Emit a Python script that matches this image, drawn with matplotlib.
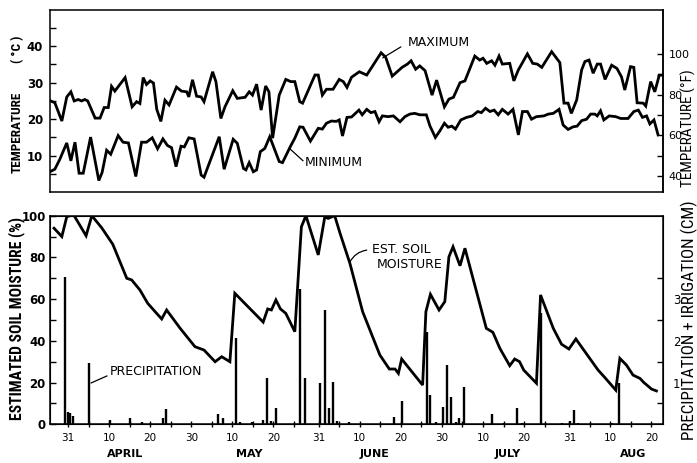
import matplotlib
matplotlib.use("Agg")
import matplotlib.pyplot as plt
from matplotlib import font_manager
from matplotlib.ticker import FixedLocator

# ---------------- data (day 0 = March 31) ----------------
tmax_day = [-4.4, -3.2, -1.5, -0.3, 0.7, 1.5, 2.5, 3.3, 4.1, 4.8, 6.6, 7.8, 8.8, 9.8, 10.6, 11.4,
            13.9, 15.6, 16.7, 17.5, 18.3, 19.1, 20.0, 20.8, 21.6, 22.6, 23.6, 24.6, 26.4, 27.6,
            28.9, 29.4, 30.3, 31.3, 32.4, 33.1, 35.2, 36.0, 37.2, 38.2, 40.1, 41.2, 43.1, 44.1,
            44.9, 45.9, 47.0, 48.1, 48.9, 49.8, 51.4, 53.0, 54.2, 55.2, 56.4, 57.1, 60.1, 60.9,
            61.9, 62.9, 64.5, 66.0, 67.0, 67.9, 69.0, 70.9, 72.7, 76.2, 77.3, 78.9, 81.3, 82.6,
            83.5, 84.6, 85.6, 86.9, 88.6, 89.7, 91.6, 92.7, 93.8, 95.4, 96.6, 99.0, 100.2, 101.0,
            101.9, 103.1, 103.9, 104.9, 105.7, 107.5, 108.5, 109.6, 111.8, 113.1, 114.2, 115.3,
            117.7, 119.7, 120.7, 121.7, 122.5, 123.8, 125.0, 125.8, 126.8, 127.8, 128.8, 129.6,
            130.7, 132.3, 133.6, 134.7, 135.5, 136.9, 137.7, 138.5, 140.0, 140.6, 141.8, 142.8,
            143.9, 144.7]
tmax_val = [25.1, 24.5, 19.5, 26.1, 27.5, 25.0, 25.4, 25.0, 25.4, 25.0, 20.3, 20.3, 23.2, 23.2, 29.0, 27.7,
            31.4, 23.4, 24.8, 24.3, 31.4, 29.5, 30.5, 29.9, 22.7, 19.4, 25.2, 23.9, 28.8, 27.7,
            27.5, 26.1, 30.8, 26.3, 26.1, 24.8, 33.0, 30.3, 20.2, 23.4, 27.8, 25.7, 26.0, 27.5,
            26.6, 29.6, 22.5, 29.1, 27.5, 14.8, 26.6, 30.9, 30.3, 30.3, 24.8, 24.4, 32.1, 32.1,
            26.6, 28.2, 28.2, 30.9, 30.3, 28.7, 31.5, 33.0, 32.1, 38.2, 37.0, 31.8, 34.2, 35.1,
            36.0, 33.7, 34.6, 33.3, 26.6, 30.7, 23.4, 25.5, 26.0, 30.0, 30.5, 37.3, 36.2, 36.7,
            35.3, 36.0, 34.8, 37.3, 35.1, 35.3, 30.5, 33.5, 37.9, 35.3, 35.1, 34.2,
            38.5, 35.5, 24.4, 24.4, 21.6, 25.3, 33.5, 35.8, 36.2, 32.6, 35.1, 35.1,
            30.9, 34.8, 33.9, 31.6, 28.0, 34.4, 34.2, 24.5, 24.4, 23.6, 30.3, 27.5,
            32.1, 32.1]

tmin_day = [-4.4, -3.2, -2.0, -0.3, 0.7, 1.7, 2.7, 3.7, 5.5, 7.5, 8.3, 9.4, 10.4, 12.2, 13.4, 14.7,
            16.5, 17.9, 19.1, 20.5, 21.8, 23.1, 24.2, 25.2, 26.3, 27.5, 28.3, 29.4, 30.7, 32.4,
            33.1, 36.8, 38.0, 40.2, 41.2, 42.7, 43.3, 44.1, 45.1, 45.9, 46.8, 47.9, 49.1, 51.4,
            52.2, 54.2, 55.2, 56.4, 57.2, 59.0, 60.9, 61.9, 62.9, 64.1, 65.3, 66.0, 66.8, 67.9,
            69.0, 70.8, 71.6, 72.7, 73.7, 74.7, 75.7, 76.5, 77.9, 79.2, 80.8, 82.0, 83.2, 84.4,
            85.6, 87.2, 88.1, 89.4, 90.5, 91.6, 92.5, 93.4, 94.3, 95.6, 97.0, 98.4, 99.7, 100.6,
            101.6, 102.7, 103.7, 104.7, 105.7, 107.1, 108.3, 109.6, 110.6, 111.8, 112.8, 114.0,
            115.8, 116.9, 118.1, 119.5, 120.5, 121.7, 122.9, 123.9, 125.0, 126.2, 127.2, 128.2,
            128.8, 129.6, 130.4, 131.7, 133.3, 134.5, 136.3, 137.7, 138.8, 139.8, 140.8, 141.6,
            142.6, 143.6]
tmin_val = [5.6, 6.3, 9.0, 13.5, 8.6, 13.7, 5.2, 5.2, 15.1, 3.2, 5.4, 11.5, 10.4, 15.5, 13.7, 13.5,
            4.3, 13.7, 13.7, 14.9, 11.9, 14.6, 12.8, 12.2, 7.0, 12.6, 12.4, 14.9, 14.6, 4.7,
            4.1, 15.2, 6.3, 14.5, 13.4, 6.5, 6.1, 8.1, 5.6, 6.1, 11.1, 12.0, 15.2, 8.4,
            8.1, 12.7, 14.8, 17.9, 17.8, 14.0, 17.5, 17.3, 18.9, 19.5, 19.4, 19.8, 15.4, 20.5,
            20.6, 22.5, 21.2, 22.7, 21.8, 22.1, 19.3, 20.9, 20.7, 20.9, 19.3, 20.7, 21.4, 21.6,
            21.2, 21.2, 18.1, 15.0, 16.8, 18.9, 17.8, 18.1, 17.3, 19.8, 20.5, 20.9, 22.1, 21.8,
            23.0, 22.1, 22.5, 21.2, 22.7, 21.4, 22.7, 15.7, 22.1, 22.1, 20.0, 20.7,
            20.9, 21.4, 21.6, 22.7, 18.4, 17.2, 17.9, 18.1, 19.6, 20.0, 21.4, 21.4,
            20.9, 22.3, 19.8, 20.9, 20.7, 20.2, 20.2, 22.1, 22.5, 20.5, 20.9, 18.7,
            19.8, 15.7]

soil_day = [-3.4, -1.5, -0.3, 0.5, 1.5, 4.4, 5.8, 7.0, 8.2, 9.4, 10.9, 14.3, 15.5, 17.5, 19.4, 21.2,
            22.8, 24.0, 27.3, 30.9, 33.1, 35.8, 37.4, 39.4, 40.6, 47.5, 48.6, 49.5, 50.6, 51.7,
            53.0, 55.2, 56.8, 57.9, 60.9, 62.5, 63.3, 64.9, 66.2, 68.6, 71.7, 75.9, 78.2, 79.6,
            80.4, 81.2, 86.3, 87.1, 88.2, 90.3, 91.7, 92.7, 93.7, 95.4, 96.6, 101.8, 103.4, 105.1,
            107.5, 108.7, 109.9, 110.9, 114.0, 115.0, 118.1, 120.1, 121.9, 123.6, 129.0, 130.7,
            133.3, 134.3, 135.9, 137.5, 139.2, 140.1, 142.0, 143.2]
soil_val = [94, 90, 99.5, 100, 100, 90.4, 100, 97.1, 94.2, 90.7, 86.3, 70, 69.2, 64.4, 58, 54,
            50.5, 54.8, 46, 37.2, 35.6, 30, 32.4, 30, 62.8, 49, 55.3, 54.8, 59.6, 55.3,
            53.2, 44.4, 94.7, 100, 81.2, 99.5, 98.7, 100, 91.6, 77.2, 54, 33.2, 26.5, 26.5,
            24.4, 31.3, 18.8, 54, 62.3, 54.8, 58.8, 80.3, 85.1, 76, 84.4, 46, 44.1, 36.4,
            28.1, 31.3, 30, 26, 19.7, 62, 46, 38.4, 36.1, 40.9, 26, 22.3,
            16.4, 31.6, 28.4, 23.6, 22, 20.1, 16.9, 16]

rain_day = [-0.7, -0.1, 0.4, 1.1, 5.2, 10.2, 15.1, 17.9, 23.0, 23.8, 36.6, 37.6, 40.9, 41.8, 44.7,
            47.5, 48.5, 49.5, 50.6, 56.4, 57.6, 61.4, 62.5, 63.6, 64.4, 65.4, 68.4, 79.3, 81.2,
            87.4, 88.2, 89.5, 91.2, 92.2, 93.3, 94.4, 95.2, 96.4, 103.3, 106.1, 109.2, 110.4,
            115.2, 120.3, 122.1, 123.2, 124.1, 132.3, 134.1]
rain_cm = [3.54, 0.3, 0.28, 0.21, 1.48, 0.1, 0.14, 0.06, 0.16, 0.37, 0.24, 0.16, 2.08, 0.06, 0.05,
           0.1, 1.12, 0.08, 0.4, 3.24, 1.12, 0.98, 2.74, 0.38, 1.02, 0.08, 0.05, 0.18, 0.56,
           2.22, 0.7, 0.05, 0.42, 1.42, 0.66, 0.05, 0.14, 0.9, 0.24, 0.04, 0.38, 0.03,
           2.66, 0.03, 0.07, 0.34, 0.03, 0.03, 0.98]

date_ticks = [0, 10, 20, 30, 40, 50, 61, 71, 81, 91, 101, 111, 122, 132, 142]
date_labels = ["31", "10", "20", "30", "10", "20", "31", "10", "20", "30", "10", "20", "31", "10", "20"]
minor_date_ticks = [5, 15, 25, 35, 45, 55, 66, 76, 86, 96, 106, 116, 127, 137]
month_names = ["APRIL", "MAY", "JUNE", "JULY", "AUG"]
month_pos = [13.9, 44.0, 74.7, 107.0, 137.5]

# ---------------- figure ----------------
W, H = 697, 463
fig = plt.figure(figsize=(W / 100, H / 100), dpi=100)
fig.patch.set_facecolor("white")

def rect(l, t, r, b):
    return [l / W, 1 - b / H, (r - l) / W, (b - t) / H]

installed = {f.name for f in font_manager.fontManager.ttflist}
NARROW = "DejaVu Sans"
for cand in ["Liberation Sans Narrow", "DejaVu Sans Condensed", "Roboto Condensed",
             "Open Sans Condensed", "Noto Sans Condensed"]:
    if cand in installed:
        NARROW = cand
        break
NUMF = ["DejaVu Sans"]
LW = 2.0
XL = (-4.38, 144.8)

# ---------- top panel ----------
ax1 = fig.add_axes(rect(50, 9.7, 663, 192.2))
ax1.plot(tmax_day, tmax_val, color="black", lw=LW, solid_joinstyle="miter")
ax1.plot(tmin_day, tmin_val, color="black", lw=LW, solid_joinstyle="miter")
ax1.set_xlim(*XL)
ax1.set_ylim(0, 50)
ax1.set_xticks([])
ax1.set_yticks([10, 20, 30, 40])
ax1.set_yticks([5, 15, 25, 35, 45], minor=True)
ax1.tick_params(axis="y", which="both", direction="in", length=4, width=1.0, pad=5,
                labelsize=8.5)
for lab in ax1.get_yticklabels():
    lab.set_fontweight("bold")
    lab.set_family(NUMF)
for s in ax1.spines.values():
    s.set_linewidth(1.1)

c2f = lambda c: c * 9 / 5 + 32
f2c = lambda f: (f - 32) * 5 / 9
sec = ax1.secondary_yaxis("right", functions=(c2f, f2c))
sec.set_yticks([40, 60, 80, 100])
sec.yaxis.set_minor_locator(FixedLocator([50, 70, 90]))
sec.tick_params(axis="y", which="both", direction="in", length=4, width=1.0, pad=4,
                labelsize=8)
for lab in sec.get_yticklabels():
    lab.set_family(NUMF)
sec.spines["right"].set_linewidth(1.1)

ax1.text(82.7, 40.9, "MAXIMUM", fontsize=9, ha="left", va="center", family=NUMF)
ax1.annotate("", xy=(76.6, 36.8), xytext=(81.0, 39.8),
             arrowprops=dict(arrowstyle="-", lw=0.9, color="black",
                             shrinkA=0, shrinkB=0))
ax1.text(57.7, 8.0, "MINIMUM", fontsize=9, ha="left", va="center", family=NUMF)
ax1.annotate("", xy=(53.8, 12.1), xytext=(57.2, 8.6),
             arrowprops=dict(arrowstyle="-", lw=0.9, color="black",
                             shrinkA=0, shrinkB=0))

# ---------- bottom panel ----------
ax2 = fig.add_axes(rect(50, 215.7, 663, 424.3))
ax2.plot(soil_day, soil_val, color="black", lw=LW, solid_joinstyle="miter")
ax2.set_xlim(*XL)
ax2.set_ylim(0, 100)
ax2.set_yticks([0, 20, 40, 60, 80, 100])
ax2.set_yticks([10, 30, 50, 70, 90], minor=True)
ax2.tick_params(axis="y", which="both", direction="in", length=4, width=1.0, pad=3,
                labelsize=8.5)
for lab in ax2.get_yticklabels():
    lab.set_fontweight("bold")
    lab.set_family(NUMF)
ax2.set_xticks(date_ticks)
ax2.set_xticklabels(date_labels, fontsize=7.5, family=NUMF)
ax2.set_xticks(minor_date_ticks, minor=True)
ax2.tick_params(axis="x", which="both", direction="inout", length=5, width=1.0, pad=4)
for s in ax2.spines.values():
    s.set_linewidth(1.1)

ax3 = ax2.twinx()
ax3.set_xlim(*XL)
ax3.set_ylim(0, 5)
ax3.vlines(rain_day, 0, rain_cm, color="black", lw=1.7)
ax3.set_yticks([1, 2, 3])
ax3.set_yticks([0.5, 1.5, 2.5, 3.5], minor=True)
ax3.tick_params(axis="y", which="major", direction="in", length=0, pad=7, labelsize=8.5)
ax3.tick_params(axis="y", which="minor", direction="in", length=4, width=1.0)
for lab in ax3.get_yticklabels():
    lab.set_family(NUMF)

for name, pos in zip(month_names, month_pos):
    ax2.text(pos, -0.14, name, transform=ax2.get_xaxis_transform(), ha="center",
             va="center", fontsize=8, fontweight="bold", family=NUMF)

ax2.text(10.2, 25.1, "PRECIPITATION", fontsize=9, ha="left", va="center", family=NUMF)
ax2.annotate("", xy=(5.6, 19.8), xytext=(9.5, 23.2),
             arrowprops=dict(arrowstyle="-", lw=0.9, color="black",
                             shrinkA=0, shrinkB=0))
ax2.text(81.0, 83.9, "EST. SOIL", fontsize=9, ha="center", va="center", family=NUMF)
ax2.text(83.2, 76.4, "MOISTURE", fontsize=9, ha="center", va="center", family=NUMF)
ax2.annotate("", xy=(68.6, 77.8), xytext=(72.7, 83.5),
             arrowprops=dict(arrowstyle="-", lw=0.9, color="black",
                             shrinkA=0, shrinkB=0, connectionstyle="arc3,rad=0.25"))

# ---------- axis titles ----------
def vlabel(x, yc, s, size, weight="bold"):
    return fig.text(x / W, 1 - yc / H, s, rotation=90, ha="center", va="center",
                    fontsize=size, fontweight=weight, family=NARROW)

def vlabel_fit(x, yc, s, length, weight="bold"):
    t = vlabel(x, yc, s, 10, weight)
    r = fig.canvas.get_renderer()
    for _ in range(3):
        h = t.get_window_extent(r).height
        t.set_fontsize(t.get_fontsize() * length / h)
    return t

vlabel(17.5, 132, "TEMPERATURE", 9.5)
vlabel(17.5, 49, "( °C )", 9.5)
vlabel_fit(16.5, 319, "ESTIMATED SOIL MOISTURE (%)", 203)
vlabel_fit(688.5, 128, "TEMPERATURE (°F)", 118, weight="normal")
vlabel_fit(689, 320, "PRECIPITATION + IRRIGATION (CM)", 240, weight="normal")

fig.savefig("out.png", dpi=100, facecolor="white")
